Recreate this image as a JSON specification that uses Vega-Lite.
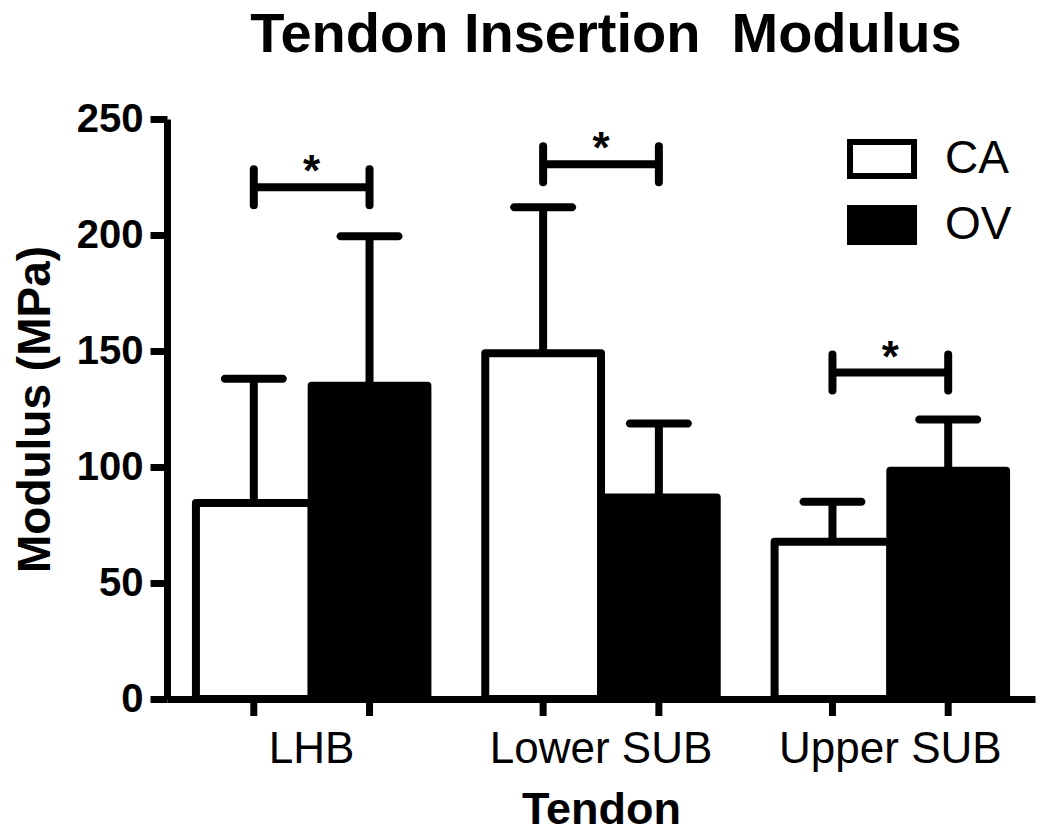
{
  "$schema": "https://vega.github.io/schema/vega-lite/v6.json",
  "width": 868,
  "height": 580,
  "autosize": {"type": "none"},
  "padding": {"left": 167, "top": 119, "right": 15, "bottom": 134},
  "background": "white",
  "config": {
    "font": "Liberation Sans",
    "view": {"stroke": null},
    "axis": {"domainColor": "black", "tickColor": "black", "labelColor": "black", "titleColor": "black", "grid": false}
  },
  "title": {
    "text": "Tendon Insertion\u00a0 Modulus",
    "fontSize": 56,
    "fontWeight": "bold",
    "color": "black",
    "anchor": "middle",
    "frame": "group",
    "baseline": "alphabetic",
    "offset": -9,
    "dx": 5
  },
  "datasets": {
    "bars": [
      {"tendon": "LHB", "group": "CA", "mean": 84.5, "upper": 138, "sig": 220.6},
      {"tendon": "LHB", "group": "OV", "mean": 135, "upper": 199.5, "sig": 220.6},
      {"tendon": "Lower SUB", "group": "CA", "mean": 149, "upper": 212, "sig": 230.5},
      {"tendon": "Lower SUB", "group": "OV", "mean": 86.8, "upper": 118.7, "sig": 230.5},
      {"tendon": "Upper SUB", "group": "CA", "mean": 67.8, "upper": 85, "sig": 140.7},
      {"tendon": "Upper SUB", "group": "OV", "mean": 98.4, "upper": 120.5, "sig": 140.7}
    ]
  },
  "data": {"name": "bars"},
  "encoding": {
    "x": {
      "field": "tendon",
      "type": "nominal",
      "sort": ["LHB", "Lower SUB", "Upper SUB"],
      "scale": {"paddingInner": 0.2, "paddingOuter": 0.1},
      "axis": {
        "title": "Tendon",
        "titleFontSize": 45,
        "titleFontWeight": "bold",
        "titlePadding": 16,
        "labelFontSize": 44,
        "labelFontWeight": "normal",
        "labelAngle": 0,
        "labelPadding": 28,
        "labelLimit": 400,
        "ticks": false,
        "tickSize": 0,
        "domainWidth": 7
      }
    }
  },
  "layer": [
    {
      "mark": {"type": "rule", "strokeWidth": 7, "color": "black", "y2Offset": 17},
      "encoding": {
        "xOffset": {"field": "group", "type": "nominal", "scale": {"domain": ["CA", "OV"], "paddingInner": 0, "paddingOuter": 0}},
        "y": {"datum": 0, "type": "quantitative"},
        "y2": {"datum": 0}
      }
    },
    {
      "mark": {"type": "bar", "stroke": "black", "strokeWidth": 8, "strokeJoin": "round"},
      "encoding": {
        "xOffset": {"field": "group", "type": "nominal", "scale": {"domain": ["CA", "OV"], "paddingInner": 0, "paddingOuter": 0}},
        "y": {
          "field": "mean",
          "type": "quantitative",
          "scale": {"domain": [0, 250], "nice": false},
          "axis": {
            "title": "Modulus (MPa)",
            "titleFontSize": 46,
            "titleFontWeight": "bold",
            "titleBaseline": "alphabetic",
            "titlePadding": 27,
            "labelFontSize": 40,
            "labelFontWeight": "bold",
            "labelPadding": 7,
            "values": [0, 50, 100, 150, 200, 250],
            "tickSize": 17,
            "tickWidth": 7,
            "domainWidth": 7
          }
        },
        "fill": {
          "field": "group",
          "type": "nominal",
          "scale": {"domain": ["CA", "OV"], "range": ["white", "black"]},
          "legend": {
            "title": null,
            "orient": "none",
            "legendX": 680,
            "legendY": 5,
            "symbolType": "M-1,-0.53H1V0.53H-1Z",
            "symbolSize": 4096,
            "symbolStrokeColor": "black",
            "symbolStrokeWidth": 6,
            "symbolOpacity": 1,
            "labelFontSize": 46,
            "labelColor": "black",
            "labelOffset": 28,
            "rowPadding": 2,
            "padding": 0
          }
        }
      }
    },
    {
      "mark": {"type": "rule", "strokeWidth": 8, "color": "black"},
      "encoding": {
        "xOffset": {"field": "group", "type": "nominal"},
        "y": {"field": "mean", "type": "quantitative"},
        "y2": {"field": "upper"}
      }
    },
    {
      "mark": {"type": "tick", "orient": "horizontal", "size": 66, "thickness": 8, "cornerRadius": 4, "color": "black", "opacity": 1},
      "encoding": {
        "xOffset": {"field": "group", "type": "nominal"},
        "y": {"field": "upper", "type": "quantitative"}
      }
    },
    {
      "mark": {"type": "rule", "strokeWidth": 8, "color": "black", "strokeCap": "round", "yOffset": -18, "y2Offset": 18},
      "encoding": {
        "xOffset": {"field": "group", "type": "nominal"},
        "y": {"field": "sig", "type": "quantitative"},
        "y2": {"field": "sig"}
      }
    },
    {
      "transform": [{"filter": "datum.group === 'CA'"}],
      "mark": {"type": "tick", "orient": "horizontal", "size": 115, "thickness": 8, "color": "black", "opacity": 1},
      "encoding": {
        "y": {"field": "sig", "type": "quantitative"}
      }
    },
    {
      "transform": [{"filter": "datum.group === 'CA'"}],
      "mark": {"type": "text", "text": "*", "fontSize": 44, "fontWeight": "bold", "color": "black", "baseline": "alphabetic", "dy": -1},
      "encoding": {
        "y": {"field": "sig", "type": "quantitative"}
      }
    }
  ]
}
